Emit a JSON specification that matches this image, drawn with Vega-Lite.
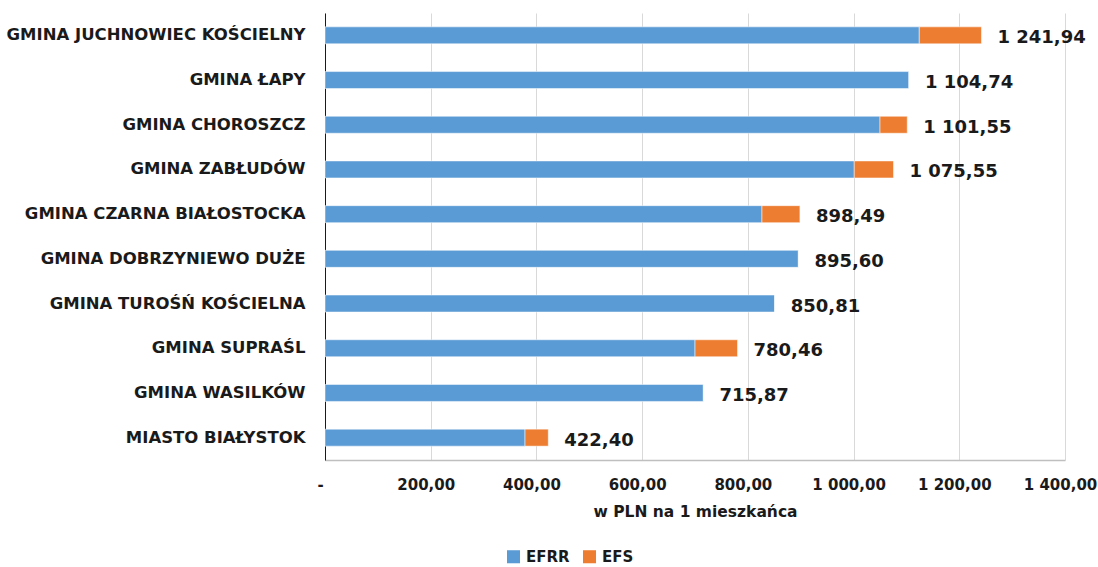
{
  "$schema": "https://vega.github.io/schema/vega-lite/v6.json",
  "width": 740,
  "height": 447,
  "autosize": "none",
  "padding": {"left": 325, "top": 13, "right": 33, "bottom": 107},
  "background": "white",
  "config": {
    "locale": {"number": {"decimal": ",", "thousands": " ", "grouping": [3], "currency": ["", ""]}},
    "view": {"stroke": null},
    "font": "DejaVu Sans"
  },
  "datasets": {
    "parts": [
      {"gmina": "GMINA JUCHNOWIEC KOŚCIELNY", "fundusz": "EFRR", "wartosc": 1124.3},
      {"gmina": "GMINA JUCHNOWIEC KOŚCIELNY", "fundusz": "EFS", "wartosc": 117.64},
      {"gmina": "GMINA ŁAPY", "fundusz": "EFRR", "wartosc": 1104.74},
      {"gmina": "GMINA ŁAPY", "fundusz": "EFS", "wartosc": 0},
      {"gmina": "GMINA CHOROSZCZ", "fundusz": "EFRR", "wartosc": 1050.0},
      {"gmina": "GMINA CHOROSZCZ", "fundusz": "EFS", "wartosc": 51.55},
      {"gmina": "GMINA ZABŁUDÓW", "fundusz": "EFRR", "wartosc": 1001.3},
      {"gmina": "GMINA ZABŁUDÓW", "fundusz": "EFS", "wartosc": 74.25},
      {"gmina": "GMINA CZARNA BIAŁOSTOCKA", "fundusz": "EFRR", "wartosc": 826.7},
      {"gmina": "GMINA CZARNA BIAŁOSTOCKA", "fundusz": "EFS", "wartosc": 71.79},
      {"gmina": "GMINA DOBRZYNIEWO DUŻE", "fundusz": "EFRR", "wartosc": 895.6},
      {"gmina": "GMINA DOBRZYNIEWO DUŻE", "fundusz": "EFS", "wartosc": 0},
      {"gmina": "GMINA TUROŚŃ KOŚCIELNA", "fundusz": "EFRR", "wartosc": 850.81},
      {"gmina": "GMINA TUROŚŃ KOŚCIELNA", "fundusz": "EFS", "wartosc": 0},
      {"gmina": "GMINA SUPRAŚL", "fundusz": "EFRR", "wartosc": 700.0},
      {"gmina": "GMINA SUPRAŚL", "fundusz": "EFS", "wartosc": 80.46},
      {"gmina": "GMINA WASILKÓW", "fundusz": "EFRR", "wartosc": 715.87},
      {"gmina": "GMINA WASILKÓW", "fundusz": "EFS", "wartosc": 0},
      {"gmina": "MIASTO BIAŁYSTOK", "fundusz": "EFRR", "wartosc": 378.4},
      {"gmina": "MIASTO BIAŁYSTOK", "fundusz": "EFS", "wartosc": 44.0}
    ],
    "totals": [
      {"gmina": "GMINA JUCHNOWIEC KOŚCIELNY", "suma": 1241.94},
      {"gmina": "GMINA ŁAPY", "suma": 1104.74},
      {"gmina": "GMINA CHOROSZCZ", "suma": 1101.55},
      {"gmina": "GMINA ZABŁUDÓW", "suma": 1075.55},
      {"gmina": "GMINA CZARNA BIAŁOSTOCKA", "suma": 898.49},
      {"gmina": "GMINA DOBRZYNIEWO DUŻE", "suma": 895.6},
      {"gmina": "GMINA TUROŚŃ KOŚCIELNA", "suma": 850.81},
      {"gmina": "GMINA SUPRAŚL", "suma": 780.46},
      {"gmina": "GMINA WASILKÓW", "suma": 715.87},
      {"gmina": "MIASTO BIAŁYSTOK", "suma": 422.4}
    ]
  },
  "layer": [
    {
      "data": {"name": "parts"},
      "mark": {"type": "bar", "stroke": "white", "strokeWidth": 0.5},
      "encoding": {
        "y": {
          "field": "gmina", "type": "nominal", "sort": null,
          "scale": {"paddingInner": 0.62, "paddingOuter": 0.31},
          "axis": {
            "title": null, "labelFont": "DejaVu Sans", "labelFontWeight": "bold", "labelFontSize": 16.5,
            "labelColor": "#1a1a1a", "labelPadding": 20, "ticks": false, "domainColor": "#1a1a1a",
            "domainWidth": 1, "labelLimit": 400
          }
        },
        "x": {
          "field": "wartosc", "type": "quantitative", "stack": "zero",
          "scale": {"domain": [0, 1400], "nice": false},
          "axis": {
            "title": "w PLN na 1 mieszkańca", "titleFont": "DejaVu Sans", "titleFontSize": 15.5,
            "titleFontWeight": "bold", "titleColor": "#1a1a1a", "titlePadding": 12,
            "values": [0, 200, 400, 600, 800, 1000, 1200, 1400],
            "labelExpr": "datum.value == 0 ? '-' : format(datum.value, ',.2f')",
            "labelFont": "DejaVu Sans", "labelFontWeight": "bold", "labelFontSize": 15, "labelColor": "#1a1a1a",
            "labelPadding": 17, "labelOffset": -5, "labelFlush": false, "labelOverlap": false, "ticks": false,
            "domainColor": "#bfbfbf", "domainWidth": 1.5,
            "grid": true, "gridColor": "#d9d9d9", "gridWidth": 1
          }
        },
        "color": {
          "field": "fundusz", "type": "nominal",
          "scale": {"domain": ["EFRR", "EFS"], "range": ["#5b9bd5", "#ed7d31"]},
          "legend": {
            "orient": "none", "legendX": 181, "legendY": 536, "direction": "horizontal",
            "title": null, "symbolType": "square", "symbolSize": 170, "symbolStrokeWidth": 0,
            "labelFont": "DejaVu Sans", "labelFontSize": 15, "labelFontWeight": "bold", "labelColor": "#1a1a1a",
            "columnPadding": 12, "labelOffset": 5
          }
        },
        "order": {"field": "fundusz", "sort": "ascending"}
      }
    },
    {
      "data": {"name": "totals"},
      "mark": {"type": "text", "align": "left", "baseline": "middle", "dx": 16, "dy": 3,
               "font": "DejaVu Sans", "fontWeight": "bold", "fontSize": 18, "color": "#1a1a1a"},
      "encoding": {
        "y": {"field": "gmina", "type": "nominal", "sort": null},
        "x": {"field": "suma", "type": "quantitative"},
        "text": {"field": "suma", "type": "quantitative", "format": ",.2f"}
      }
    }
  ]
}
